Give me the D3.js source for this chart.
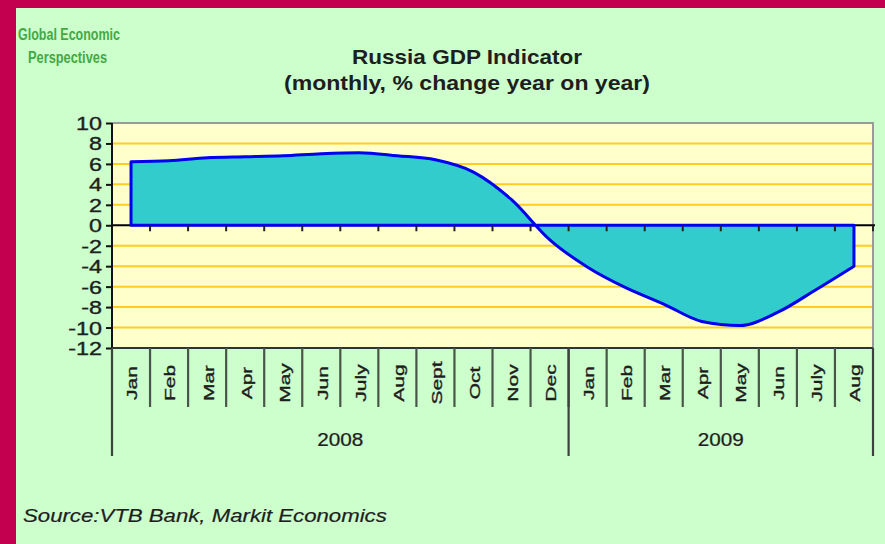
<!DOCTYPE html>
<html><head><meta charset="utf-8">
<script src="https://cdn.jsdelivr.net/npm/d3@7"></script>
<style>
html,body{margin:0;padding:0;background:#c2004f;}
svg{display:block;}
</style></head>
<body><svg id="chart" width="885" height="544"></svg>
<script>
const months = ["Jan","Feb","Mar","Apr","May","Jun","July","Aug","Sept","Oct","Nov","Dec",
                "Jan","Feb","Mar","Apr","May","Jun","July","Aug"];
const years = ["2008","2009"];
const yearCounts = [12, 8];
const values = [6.2, 6.3, 6.6, 6.7, 6.8, 7.0, 7.1, 6.8, 6.4, 5.2, 2.5, -1.4,
                -4.1, -6.1, -7.7, -9.4, -9.8, -8.5, -6.3, -4.0];
const yTicks = [-12,-10,-8,-6,-4,-2,0,2,4,6,8,10];
const titleLines = ["Russia GDP Indicator", "(monthly, % change year on year)"];
const logoLines = ["Global Economic", "Perspectives"];
const sourceText = "Source:VTB Bank, Markit Economics";

const svg = d3.select("#chart");
const L = 112, R = 873, T = 123, B = 348;
const txt = "#1e1e1e";

// panel
svg.append("rect").attr("x",0).attr("y",0).attr("width",885).attr("height",544).attr("fill","#c2004f");
svg.append("rect").attr("x",16).attr("y",8).attr("width",869).attr("height",536).attr("fill","#ccffcc");

const x = d3.scaleBand().domain(d3.range(months.length)).range([L, R]).padding(0);
const y = d3.scaleLinear().domain([-12, 10]).range([B, T]);
const bw = x.bandwidth();

// plot background
svg.append("rect").attr("x",L).attr("y",T).attr("width",R-L).attr("height",B-T).attr("fill","#ffffcc");

// gridlines
svg.append("g").selectAll("line").data(yTicks.filter(d => d !== 0 && d !== 10 && d !== -12))
  .join("line")
  .attr("x1",L).attr("x2",R).attr("y1",d=>y(d)).attr("y2",d=>y(d))
  .attr("stroke","#ffcc22").attr("stroke-width",2);

// plot border top/right
svg.append("path").attr("d",`M${L},${T}H${R}V${B}`).attr("fill","none")
  .attr("stroke","#9a9a9a").attr("stroke-width",2);

// zero axis line
svg.append("line").attr("x1",L).attr("x2",R+2).attr("y1",y(0)).attr("y2",y(0))
  .attr("stroke","#000").attr("stroke-width",2);

// area
const area = d3.area()
  .x((d,i) => x(i) + bw/2)
  .y0(y(0))
  .y1(d => y(d))
  .curve(d3.curveMonotoneX);
svg.append("path").datum(values).attr("d", area)
  .attr("fill","#33cccc").attr("stroke","#0000ee").attr("stroke-width",3)
  .attr("stroke-linejoin","round");

// zero axis ticks (category boundaries)
svg.append("g").selectAll("line").data(d3.range(1, months.length+1))
  .join("line")
  .attr("x1",i => L + i*bw).attr("x2",i => L + i*bw)
  .attr("y1",y(0)).attr("y2",y(0)+6)
  .attr("stroke","#222").attr("stroke-width",2);

// y axis
const yAxis = svg.append("g").attr("transform",`translate(${L},0)`)
  .call(d3.axisLeft(y).tickValues(yTicks).tickSize(6).tickFormat(d => String(d)));
yAxis.select(".domain").remove();
yAxis.selectAll(".tick line").attr("stroke","#111").attr("stroke-width",2);
yAxis.selectAll(".tick text").remove();
yAxis.selectAll(".tick").append("text")
  .attr("transform","translate(-10,0) scale(1.3,1)")
  .attr("text-anchor","end").attr("dy","0.36em")
  .attr("font-family","Liberation Sans, Arial, sans-serif").attr("font-size",18)
  .attr("fill",txt).attr("stroke",txt).attr("stroke-width",0.35)
  .text(d => String(d));

// left axis line (extends down through the category label area)
svg.append("line").attr("x1",L).attr("x2",L).attr("y1",T).attr("y2",456)
  .attr("stroke","#111").attr("stroke-width",2);

// category axis line at bottom
svg.append("line").attr("x1",L).attr("x2",R).attr("y1",B).attr("y2",B)
  .attr("stroke","#333").attr("stroke-width",2);

// month separators
svg.append("g").selectAll("line").data(d3.range(1, months.length))
  .join("line")
  .attr("x1",i => L + i*bw).attr("x2",i => L + i*bw)
  .attr("y1",B).attr("y2",407)
  .attr("stroke","#4a554a").attr("stroke-width",2.2);

// year separators
const yearBounds = [0];
yearCounts.forEach((c,k) => yearBounds.push(yearBounds[k] + c));
svg.append("g").selectAll("line").data(yearBounds)
  .join("line")
  .attr("x1",i => i === months.length ? R : L + i*bw).attr("x2",i => i === months.length ? R : L + i*bw)
  .attr("y1",B).attr("y2",456)
  .attr("stroke","#3a443a").attr("stroke-width",2.2);

// month labels via bottom axis
const xAxis = svg.append("g").attr("transform",`translate(0,${B})`)
  .call(d3.axisBottom(x).tickSize(0).tickFormat(i => months[i]));
xAxis.select(".domain").remove();
xAxis.selectAll(".tick text").remove();
xAxis.selectAll(".tick").append("text")
  .attr("transform","translate(1,35) rotate(-90) scale(1.4,1)")
  .attr("text-anchor","middle").attr("dy","0.36em")
  .attr("font-family","Liberation Sans, Arial, sans-serif").attr("font-size",15)
  .attr("fill",txt).attr("stroke",txt).attr("stroke-width",0.35)
  .text(i => months[i]);

// year labels
svg.append("g").selectAll("text").data(years)
  .join("text")
  .attr("transform",(d,k) => {
    const x0 = L + yearBounds[k]*bw, x1 = (yearBounds[k+1] === months.length) ? R : L + yearBounds[k+1]*bw;
    return `translate(${(x0+x1)/2},446) scale(1.15,1)`;
  })
  .attr("text-anchor","middle")
  .attr("font-family","Liberation Sans, Arial, sans-serif").attr("font-size",18)
  .attr("fill",txt).attr("stroke",txt).attr("stroke-width",0.25)
  .text(d => d);

// title
svg.append("g").selectAll("text").data(titleLines)
  .join("text")
  .attr("x",467).attr("y",(d,i) => 63.5 + i*26)
  .attr("text-anchor","middle")
  .attr("font-family","Liberation Sans, Arial, sans-serif").attr("font-weight","bold")
  .attr("font-size",21)
  .attr("textLength",(d,i) => i === 0 ? 230 : 366).attr("lengthAdjust","spacingAndGlyphs")
  .attr("fill",txt)
  .text(d => d);

// logo
svg.append("g").selectAll("text").data(logoLines)
  .join("text")
  .attr("x",(d,i) => i === 0 ? 18 : 28).attr("y",(d,i) => i === 0 ? 40 : 63)
  .attr("font-family","Liberation Sans Narrow, Arial Narrow, sans-serif")
  .attr("font-weight","bold")
  .attr("font-size",16)
  .attr("textLength",(d,i) => i === 0 ? 102 : 79).attr("lengthAdjust","spacingAndGlyphs")
  .attr("fill","#45a845")
  .text(d => d);

// source
svg.append("text")
  .attr("transform","translate(23,522) scale(1.2,1)")
  .attr("font-family","Liberation Sans, Arial, sans-serif").attr("font-style","italic")
  .attr("font-size",18.5).attr("fill",txt).attr("stroke",txt).attr("stroke-width",0.2)
  .text(sourceText);
</script>
</body></html>
